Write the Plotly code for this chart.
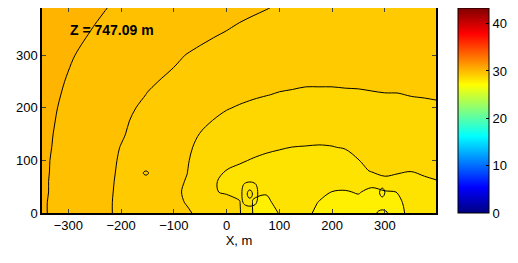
import plotly.graph_objects as go

# Grid coordinates (m)
x_m = [-350, -300, -250, -200, -150, -100, -75, -50, -25, 0, 25, 50, 75, 100,
       125, 150, 175, 200, 225, 250, 275, 300, 325, 350, 375, 400]
y_m = [0, 20, 40, 60, 80, 100, 125, 150, 175, 200, 225, 250, 300, 350, 400]

# Field values (one row per y)
z_0 = [30.04, 29.84, 29.64, 29.43, 29.28, 29.12, 29.04, 28.93, 28.79, 28.64, 28.53, 27.99, 27.9, 28.01, 28.08, 28.05, 27.95, 27.9, 27.88, 27.88, 27.88, 27.9, 27.95, 28.05, 28.13, 28.2]
z_20 = [30.04, 29.84, 29.64, 29.43, 29.26, 29.08, 28.98, 28.86, 28.75, 28.6, 28.51, 27.98, 27.95, 28.07, 28.1, 28.1, 27.99, 27.93, 27.91, 27.92, 27.92, 27.92, 27.96, 28.08, 28.2, 28.27]
z_40 = [30.05, 29.85, 29.64, 29.44, 29.26, 29.07, 28.95, 28.75, 28.52, 28.47, 28.45, 28.05, 28.02, 28.15, 28.17, 28.17, 28.07, 27.995, 27.98, 28.02, 27.93, 27.95, 28.01, 28.16, 28.3, 28.37]
z_60 = [30.05, 29.85, 29.64, 29.45, 29.26, 29.08, 28.98, 28.75, 28.53, 28.43, 28.38, 28.26, 28.24, 28.24, 28.25, 28.25, 28.17, 28.11, 28.11, 28.18, 28.1, 28.4, 28.36, 28.35, 28.44, 28.49]
z_80 = [30.06, 29.85, 29.65, 29.46, 29.28, 29.1, 29.01, 28.8, 28.6, 28.49, 28.44, 28.38, 28.35, 28.33, 28.33, 28.33, 28.28, 28.23, 28.25, 28.34, 28.54, 28.6, 28.55, 28.51, 28.56, 28.58]
z_100 = [30.06, 29.86, 29.66, 29.47, 29.29, 29.11, 29.03, 28.85, 28.7, 28.58, 28.53, 28.48, 28.44, 28.42, 28.41, 28.41, 28.38, 28.36, 28.38, 28.49, 28.62, 28.66, 28.62, 28.6, 28.63, 28.65]
z_125 = [30.07, 29.88, 29.68, 29.49, 29.31, 29.14, 29.06, 28.92, 28.8, 28.69, 28.63, 28.59, 28.55, 28.52, 28.497, 28.49, 28.48, 28.49, 28.52, 28.62, 28.69, 28.71, 28.68, 28.68, 28.7, 28.72]
z_150 = [30.08, 29.89, 29.71, 29.53, 29.35, 29.17, 29.1, 28.99, 28.9, 28.8, 28.74, 28.7, 28.67, 28.63, 28.6, 28.59, 28.59, 28.6, 28.63, 28.71, 28.76, 28.77, 28.75, 28.76, 28.78, 28.8]
z_175 = [30.09, 29.91, 29.73, 29.55, 29.39, 29.23, 29.14, 29.07, 28.99, 28.91, 28.85, 28.81, 28.78, 28.75, 28.72, 28.7, 28.7, 28.71, 28.74, 28.79, 28.83, 28.84, 28.83, 28.84, 28.86, 28.88]
z_200 = [30.1, 29.93, 29.76, 29.59, 29.43, 29.3, 29.23, 29.16, 29.09, 29.02, 28.97, 28.93, 28.89, 28.87, 28.84, 28.82, 28.82, 28.82, 28.84, 28.87, 28.9, 28.91, 28.91, 28.93, 28.94, 28.96]
z_225 = [30.1, 29.96, 29.8, 29.64, 29.49, 29.38, 29.3, 29.25, 29.19, 29.12, 29.08, 29.04, 29.01, 28.98, 28.96, 28.94, 28.94, 28.94, 28.95, 28.96, 28.98, 28.99, 28.99, 29.01, 29.02, 29.03]
z_250 = [30.12, 29.98, 29.83, 29.68, 29.54, 29.44, 29.38, 29.32, 29.26, 29.19, 29.13, 29.11, 29.09, 29.07, 29.06, 29.04, 29.04, 29.04, 29.05, 29.05, 29.05, 29.06, 29.07, 29.08, 29.09, 29.1]
z_300 = [30.15, 30.03, 29.91, 29.79, 29.67, 29.55, 29.49, 29.44, 29.4, 29.35, 29.3, 29.28, 29.25, 29.22, 29.2, 29.17, 29.16, 29.15, 29.15, 29.15, 29.15, 29.16, 29.17, 29.18, 29.19, 29.2]
z_350 = [30.18, 30.08, 29.99, 29.89, 29.79, 29.69, 29.65, 29.6, 29.55, 29.51, 29.46, 29.42, 29.39, 29.36, 29.33, 29.3, 29.28, 29.27, 29.26, 29.25, 29.25, 29.26, 29.27, 29.28, 29.29, 29.3]
z_400 = [30.2, 30.12, 30.05, 29.97, 29.89, 29.82, 29.78, 29.74, 29.7, 29.66, 29.62, 29.58, 29.54, 29.5, 29.47, 29.43, 29.4, 29.38, 29.37, 29.35, 29.35, 29.36, 29.37, 29.38, 29.39, 29.4]

z_rows = [z_0, z_20, z_40, z_60, z_80, z_100, z_125, z_150, z_175, z_200,
          z_225, z_250, z_300, z_350, z_400]

# small closed contours (local bumps)
bump_a_x = [24, 34, 44, 54, 64]
bump_a_y = [6, 20, 36, 52, 66]
bump_a_z = [[0, 0, 0, 0, 0],
            [0, 0.7, 1, 0.7, 0],
            [0, 1, 2, 1, 0],
            [0, 0.7, 1, 0.7, 0],
            [0, 0, 0, 0, 0]]
bump_b_x = [-163, -153, -143]
bump_b_y = [68, 76, 84]
bump_b_z = [[0, 0, 0], [0, 1, 0], [0, 0, 0]]
bump_c_x = [285, 295, 305]
bump_c_y = [22, 39, 56]
bump_c_z = [[0, 0, 0], [0, 1, 0], [0, 0, 0]]
bump_d_x = [275, 295, 315]
bump_d_y = [-12, 0, 12]
bump_d_z = [[0, 0, 0], [0, 1, 0], [0, 0, 0]]

level_start = 28.0
level_end = 30.0
level_step = 0.5

cbar_min = 0
cbar_max = 43.3
cbar_ticks = [0, 10, 20, 30, 40]
label_text = "Z = 747.09 m"
x_ticks = [-300, -200, -100, 0, 100, 200, 300]
y_ticks = [0, 100, 200, 300]


def jet(v):
    p = (v - cbar_min) / (cbar_max - cbar_min)
    def cl(a):
        return max(0.0, min(1.0, a))
    r = cl(min(4 * p - 1.5, -4 * p + 4.5))
    g = cl(min(4 * p - 0.5, -4 * p + 3.5))
    b = cl(min(4 * p + 0.5, -4 * p + 2.5))
    return "rgb(%d,%d,%d)" % (round(r * 255), round(g * 255), round(b * 255))


# discrete band colours (band midpoints mapped through jet)
n_levels = int(round((level_end - level_start) / level_step)) + 1
band_vals = [level_start - level_step / 2 + i * level_step for i in range(n_levels + 1)]
band_scale = [[i / n_levels, jet(v)] for i, v in enumerate(band_vals)]

jet_scale = [[0, "rgb(0,0,128)"], [0.125, "rgb(0,0,255)"], [0.375, "rgb(0,255,255)"],
             [0.625, "rgb(255,255,0)"], [0.875, "rgb(255,0,0)"], [1, "rgb(128,0,0)"]]

FONT = "Liberation Sans, Arial, Helvetica, sans-serif"

fig = go.Figure()
fig.add_trace(go.Contour(
    x=x_m, y=y_m, z=z_rows,
    autocontour=False,
    contours=dict(start=level_start, end=level_end, size=level_step, coloring="fill"),
    colorscale=band_scale,
    showscale=False,
    line=dict(color="black", width=1, smoothing=1.0),
    hoverinfo="skip",
))

for bx, by, bz, lv in [(bump_a_x, bump_a_y, bump_a_z, (0.5, 1.5)),
                       (bump_b_x, bump_b_y, bump_b_z, (0.5, 0.5)),
                       (bump_c_x, bump_c_y, bump_c_z, (0.5, 0.5)),
                       (bump_d_x, bump_d_y, bump_d_z, (0.5, 0.5))]:
    fig.add_trace(go.Contour(
        x=bx, y=by, z=bz, autocontour=False,
        contours=dict(start=lv[0], end=lv[1], size=1, coloring="none"),
        line=dict(color="black", width=1, smoothing=1.3),
        showscale=False, hoverinfo="skip",
    ))

# colorbar (full jet range)
fig.add_trace(go.Scatter(
    x=[0], y=[-1000], mode="markers",
    marker=dict(size=1, color=[0], colorscale=jet_scale, cmin=cbar_min, cmax=cbar_max,
                showscale=True,
                colorbar=dict(
                    x=1.056, xanchor="left", y=0.5, yanchor="middle",
                    len=1, lenmode="fraction", thickness=31, thicknessmode="pixels",
                    outlinewidth=1, outlinecolor="black",
                    tickvals=cbar_ticks, ticks="inside", ticklen=3, tickcolor="black",
                    tickfont=dict(family=FONT, size=13, color="black"),
                    xpad=0, ypad=0,
                )),
    showlegend=False, hoverinfo="skip",
))

fig.add_annotation(
    x=0.066, y=0.892, xref="paper", yref="paper", xanchor="left", yanchor="middle",
    text="<b>%s</b>" % label_text, showarrow=False,
    font=dict(family=FONT, size=14, color="black"),
)

# the page body has an 8px default margin, so the figure is drawn 8px smaller
fig.update_layout(
    width=510, height=255,
    margin=dict(l=34, r=82, t=0, b=50, autoexpand=False),
    paper_bgcolor="white", plot_bgcolor="white",
    font=dict(family=FONT, size=13, color="black"),
    showlegend=False,
    xaxis=dict(range=[-350, 397], tickvals=x_ticks, ticks="inside", ticklen=4,
               showline=True, linecolor="black", linewidth=1.5, mirror="ticks",
               showgrid=False, zeroline=False,
               title=dict(text="X, m", standoff=4, font=dict(family=FONT, size=13)),
               tickfont=dict(family=FONT, size=13)),
    yaxis=dict(range=[0, 390], tickvals=y_ticks, ticks="inside", ticklen=4,
               showline=True, linecolor="black", linewidth=1.5, mirror="ticks",
               showgrid=False, zeroline=False,
               tickfont=dict(family=FONT, size=13)),
)

fig.write_html("out.html")
